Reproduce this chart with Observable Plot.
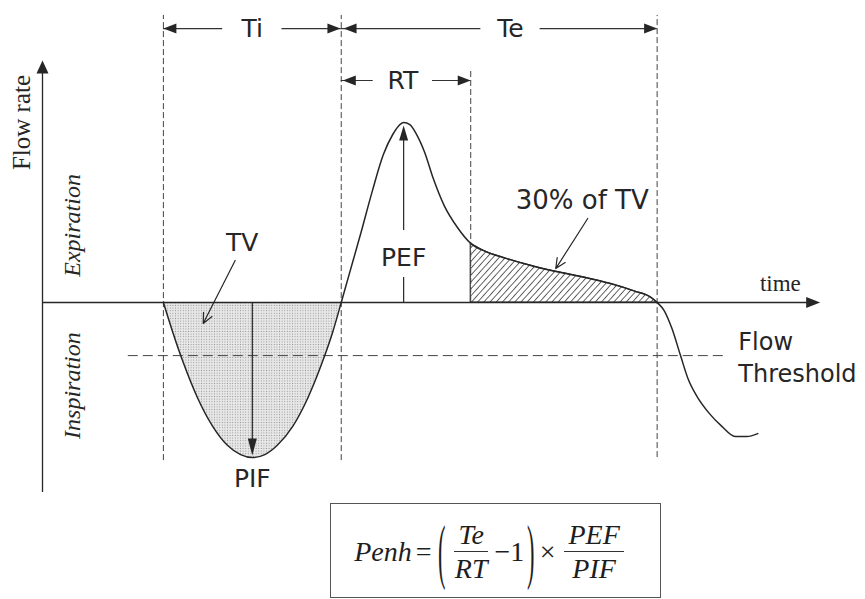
<!DOCTYPE html>
<html>
<head>
<meta charset="utf-8">
<script src="https://cdn.jsdelivr.net/npm/d3@7"></script>
<script src="https://cdn.jsdelivr.net/npm/@observablehq/plot@0.6"></script>
<style>
html, body { margin: 0; padding: 0; background: #fff; }
#wrap { position: relative; width: 865px; height: 599px; overflow: hidden; background: #fff; }
#formula {
  position: absolute; left: 330px; top: 503px; width: 331px; height: 95px;
  box-sizing: border-box; border: 1.3px solid #555;
  display: flex; align-items: center; justify-content: center; padding: 2px 10px 0 0;
  font-family: "Liberation Serif", "DejaVu Serif", serif; font-size: 28px; color: #1e1e1e;
}
#formula .it { font-style: italic; }
#formula .op { margin: 0 3px 0 4px; }
#formula .times { margin: 0 6px 0 2px; }
#formula .paren { display: inline-block; transform: scale(0.8, 2.55); margin: 0 2px; }
#formula .frac { display: inline-flex; flex-direction: column; align-items: center; margin: 0 3px; }
#formula .num { border-bottom: 1.3px solid #333; padding: 0 4px 0; line-height: 1.12; }
#formula .den { padding: 1px 4px 0; line-height: 1.12; }
</style>
</head>
<body>
<svg width="0" height="0" style="position:absolute">
  <defs>
    <pattern id="dots" width="2.6" height="2.6" patternUnits="userSpaceOnUse">
      <rect width="2.6" height="2.6" fill="#e9e9e9"/>
      <circle cx="1.3" cy="1.3" r="0.6" fill="#979797"/>
    </pattern>
    <pattern id="hatch" width="4.6" height="8" patternUnits="userSpaceOnUse" patternTransform="rotate(42)">
      <line x1="0" y1="0" x2="0" y2="8" stroke="#222" stroke-width="1.4"/>
    </pattern>
  </defs>
</svg>
<div id="wrap">
  <div id="chart"></div>
  <div id="formula">
    <span class="it">Penh</span><span class="op">=</span><span class="paren">(</span>
    <span class="frac"><span class="num it">Te</span><span class="den it">RT</span></span>
    <span>−1</span><span class="paren">)</span><span class="times">×</span>
    <span class="frac"><span class="num it">PEF</span><span class="den it">PIF</span></span>
  </div>
</div>
<script>
// ---- Flow curve (time and flow in arbitrary units; + = expiration, - = inspiration) ----
const inspTime = [1.55, 1.67, 1.80, 1.99, 2.18, 2.37, 2.54, 2.69, 2.85, 3.01, 3.21, 3.40, 3.59, 3.72, 3.83];
const inspFlow = [0, -0.99, -1.97, -3.19, -4.12, -4.76, -5.07, -5.17, -5.07, -4.76, -4.12, -3.19, -1.97, -0.99, 0];
const expTime = [3.83, 3.92, 4.08, 4.23, 4.37, 4.49, 4.56, 4.63, 4.71, 4.79, 4.90, 5.01, 5.15, 5.32, 5.49, 5.68, 5.94, 6.26, 6.58, 6.96, 7.28, 7.60, 7.80, 7.88];
const expFlow = [0, 0.83, 2.30, 3.73, 4.93, 5.60, 5.87, 6.00, 5.93, 5.63, 5.00, 4.13, 3.23, 2.50, 1.97, 1.70, 1.47, 1.23, 1.03, 0.83, 0.63, 0.37, 0.17, 0];
const nextTime = [7.97, 8.07, 8.18, 8.28, 8.40, 8.54, 8.71, 8.88, 9.03, 9.17];
const nextFlow = [-0.27, -0.87, -1.77, -2.57, -3.17, -3.67, -4.13, -4.47, -4.47, -4.37];

// ---- Key events ----
const breathStart = 1.55, inspEnd = 3.83, rtEnd = 5.49, expEnd = 7.88;
const pefTime = 4.63, pefFlow = 5.9;
const pifTime = 2.69, pifFlow = -5.1;
const thresholdFlow = -1.77;
const thresholdFrom = 1.10, thresholdTo = 8.73;

// ---- Axes extents ----
const axisTimeEnd = 9.97;
const axisFlowTop = 8.07, axisFlowBottom = -6.33;

// ---- Dashed guides ----
const guideTime   = [breathStart, inspEnd, rtEnd, expEnd];
const guideTop    = [9.57, 9.57, 7.8, 9.57];
const guideBottom = [-5.27, -5.27, 0, -5.17];

// ---- Interval dimension arrows ----
const intervalName  = ["Ti", "Te", "RT"];
const intervalStart = [breathStart, inspEnd, inspEnd];
const intervalEnd   = [inspEnd, expEnd, rtEnd];
const intervalLevel = [9.13, 9.13, 7.4];
const intervalLabel = [2.69, 6.0, 4.62];
const labelGap = 0.38;

// ---- Labels ----
const calloutText = ["PEF", "PIF", "TV", "30% of TV"];
const calloutTime = [4.63, 2.69, 2.56, 6.92];
const calloutFlow = [1.47, -5.87, 1.97, 3.4];
const calloutSize = [25, 25, 25, 26];

const leaderFromTime = [2.47, 6.99];
const leaderFromFlow = [1.40, 2.80];
const leaderToTime   = [2.06, 6.58];
const leaderToFlow   = [-0.70, 1.13];

// ---- build tables ----
const zip = (t, f) => t.map((d, i) => ({t: d, f: f[i]}));
const insp = zip(inspTime, inspFlow);
const exp = zip(expTime, expFlow);
const next = zip(nextTime, nextFlow);
const curve = insp.concat(exp.slice(1), next);
const hatched = exp.filter(d => d.t >= rtEnd);
const guides = guideTime.map((t, i) => ({t, top: guideTop[i], bottom: guideBottom[i]}));
const segments = [];
intervalName.forEach((n, i) => {
  segments.push({x1: intervalStart[i], x2: intervalLabel[i] - labelGap, y: intervalLevel[i]});
  segments.push({x1: intervalLabel[i] + labelGap, x2: intervalEnd[i], y: intervalLevel[i]});
});
const intervals = intervalName.map((n, i) => ({n, t: intervalLabel[i], f: intervalLevel[i]}));
const callouts = calloutText.map((s, i) => ({s, t: calloutTime[i], f: calloutFlow[i], size: calloutSize[i]}));
const leaders = leaderFromTime.map((d, i) => ({x1: d, y1: leaderFromFlow[i], x2: leaderToTime[i], y2: leaderToFlow[i]}));

// filled arrowhead symbols (tip at the data point)
function head(dir, len, half) {
  return {draw(ctx) {
    if (dir === "up") { ctx.moveTo(0, 0); ctx.lineTo(-half, len); ctx.lineTo(half, len); }
    else if (dir === "down") { ctx.moveTo(0, 0); ctx.lineTo(-half, -len); ctx.lineTo(half, -len); }
    else if (dir === "left") { ctx.moveTo(0, 0); ctx.lineTo(len, -half); ctx.lineTo(len, half); }
    else { ctx.moveTo(0, 0); ctx.lineTo(-len, -half); ctx.lineTo(-len, half); }
    ctx.closePath();
  }};
}
const ink = "#262626";
const headsLeft = [{t: breathStart, f: 9.13}, {t: inspEnd + 0.03, f: 9.13}, {t: inspEnd + 0.02, f: 7.4}];
const headsRight = [{t: inspEnd - 0.01, f: 9.13}, {t: expEnd, f: 9.13}, {t: rtEnd, f: 7.4}];

const sans = "'DejaVu Sans', Verdana, sans-serif";
const serif = "'Liberation Serif', 'Times New Roman', serif";
const smooth = "monotone-x";

const plot = Plot.plot({
  width: 865,
  height: 500,
  margin: 0,
  x: {domain: [0, 10], range: [42, 822], axis: null},
  y: {domain: [-10, 10], range: [602, 2], axis: null},
  marks: [
    // shaded areas
    Plot.areaY(insp, {x: "t", y: "f", curve: smooth, fill: "url(#dots)"}),
    Plot.areaY(hatched, {x: "t", y: "f", curve: smooth, fill: "url(#hatch)", stroke: ink, strokeWidth: 1.1}),
    // dashed guides
    Plot.ruleX(guides, {x: "t", y1: "bottom", y2: "top", stroke: "#444", strokeWidth: 1, strokeDasharray: "6,3"}),
    Plot.ruleY([thresholdFlow], {x1: thresholdFrom, x2: thresholdTo, stroke: "#444", strokeWidth: 1, strokeDasharray: "10,5"}),
    // axes
    Plot.ruleX([0], {y1: axisFlowBottom, y2: axisFlowTop - 0.3, stroke: ink, strokeWidth: 1.3}),
    Plot.ruleY([0], {x1: 0, x2: axisTimeEnd - 0.1, stroke: ink, strokeWidth: 1.3}),
    Plot.dot([{t: 0, f: axisFlowTop}], {x: "t", y: "f", symbol: head("up", 13, 6), fill: ink, stroke: "none"}),
    Plot.dot([{t: axisTimeEnd, f: 0}], {x: "t", y: "f", symbol: head("right", 14, 5.5), fill: ink, stroke: "none"}),
    // flow curve
    Plot.line(curve, {x: "t", y: "f", curve: smooth, stroke: ink, strokeWidth: 1.5}),
    // PEF / PIF arrows
    Plot.ruleX([pefTime], {y1: 0, y2: 0.83, stroke: ink, strokeWidth: 1.2}),
    Plot.ruleX([pefTime], {y1: 2.4, y2: pefFlow - 0.3, stroke: ink, strokeWidth: 1.2}),
    Plot.dot([{t: pefTime, f: pefFlow}], {x: "t", y: "f", symbol: head("up", 15, 4.5), fill: ink, stroke: "none"}),
    Plot.ruleX([pifTime], {y1: 0, y2: pifFlow + 0.3, stroke: ink, strokeWidth: 1.2}),
    Plot.dot([{t: pifTime, f: pifFlow}], {x: "t", y: "f", symbol: head("down", 17, 4.5), fill: ink, stroke: "none"}),
    // interval dimension arrows
    Plot.ruleY(segments, {y: "y", x1: "x1", x2: "x2", stroke: "#333", strokeWidth: 1.2}),
    Plot.dot(headsLeft, {x: "t", y: "f", symbol: head("left", 13, 5), fill: ink, stroke: "none"}),
    Plot.dot(headsRight, {x: "t", y: "f", symbol: head("right", 13, 5), fill: ink, stroke: "none"}),
    Plot.text(intervals, {x: "t", y: "f", text: "n", fontFamily: sans, fontSize: 25, fill: ink}),
    // leaders
    Plot.arrow(leaders, {x1: "x1", y1: "y1", x2: "x2", y2: "y2", stroke: ink, strokeWidth: 1.2, headLength: 14, headAngle: 50}),
    // labels
    Plot.text(callouts, {x: "t", y: "f", text: "s", fontFamily: sans, fontSize: "size", fill: ink}),
    Plot.text(["Flow\nThreshold"], {x: 8.92, y: thresholdFlow, textAnchor: "start", lineHeight: 1.35, fontFamily: sans, fontSize: 24, fill: ink}),
    Plot.text(["Flow rate"], {x: -0.26, y: 6.0, rotate: -90, fontFamily: serif, fontSize: 25, fill: ink}),
    Plot.text(["Expiration"], {x: 0.38, y: 2.57, rotate: -90, fontFamily: serif, fontStyle: "italic", fontSize: 24, fill: ink}),
    Plot.text(["Inspiration"], {x: 0.38, y: -2.77, rotate: -90, fontFamily: serif, fontStyle: "italic", fontSize: 24, fill: ink}),
    Plot.text(["time"], {x: 9.46, y: 0.63, fontFamily: serif, fontSize: 23, fill: ink})
  ]
});
document.getElementById("chart").appendChild(plot);
</script>
</body>
</html>
